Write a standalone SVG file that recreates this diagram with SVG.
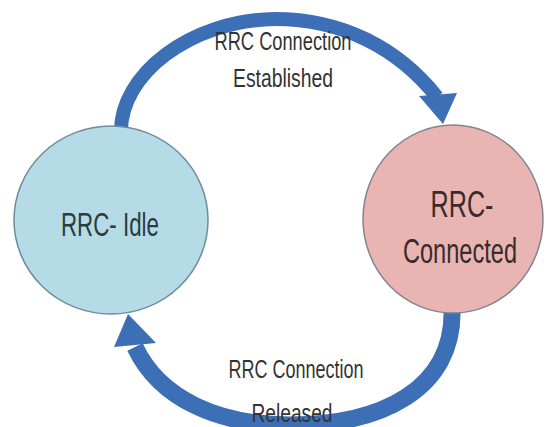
<svg xmlns="http://www.w3.org/2000/svg" width="546" height="427" viewBox="0 0 546 427">
  <style>
    .flow { fill: none; stroke: #3d6fb6; stroke-linecap: butt; }
    .head { fill: #3d6fb6; }
    .label { font-family: "Liberation Sans", Arial, sans-serif; font-size: 26px; fill: #333333; text-anchor: middle; }
    .state { font-family: "Liberation Sans", Arial, sans-serif; text-anchor: middle; }
  </style>
  <rect width="546" height="427" fill="#ffffff"/>

  <!-- transitions between the two RRC states -->
  <g id="connectors">
    <g id="edge-established">
      <path class="flow" stroke-width="14" d="M121,132 C120,75 190,20 275,19 C342,19 398,48 437,97"/>
      <polygon class="head" points="419,96 457,93 443,124"/>
    </g>
    <g id="edge-released">
      <path class="flow" stroke-width="17" d="M452,308 C455,390 380,425 290,425 C220,425 160,400 135,347"/>
      <polygon class="head" points="114,347 156,343 128,314"/>
    </g>
    <text class="label" x="283" y="50" textLength="137" lengthAdjust="spacingAndGlyphs">RRC Connection</text>
    <text class="label" x="283" y="87" textLength="100" lengthAdjust="spacingAndGlyphs">Established</text>
    <text class="label" x="296" y="378" textLength="135" lengthAdjust="spacingAndGlyphs">RRC Connection</text>
    <text class="label" x="292" y="422" textLength="81" lengthAdjust="spacingAndGlyphs">Released</text>
  </g>

  <!-- idle state -->
  <g id="node-idle">
    <ellipse cx="111" cy="220" rx="97" ry="94" fill="#b5dbe7" stroke="#6f8d9c" stroke-width="1.5"/>
    <text class="state" x="110" y="236" font-size="34" fill="#2c3b42" textLength="98" lengthAdjust="spacingAndGlyphs">RRC- Idle</text>
  </g>

  <!-- connected state: narrow lettering via horizontal scale -->
  <g id="node-connected">
    <ellipse cx="453" cy="219" rx="90" ry="94" fill="#e8b5b3" stroke="#85838f" stroke-width="1.5"/>
    <text class="state" transform="translate(462 217) scale(0.68 1)" font-size="37" fill="#3a2b2b">RRC-</text>
    <text class="state" transform="translate(460 263) scale(0.655 1)" font-size="36" fill="#3a2b2b">Connected</text>
  </g>
</svg>
